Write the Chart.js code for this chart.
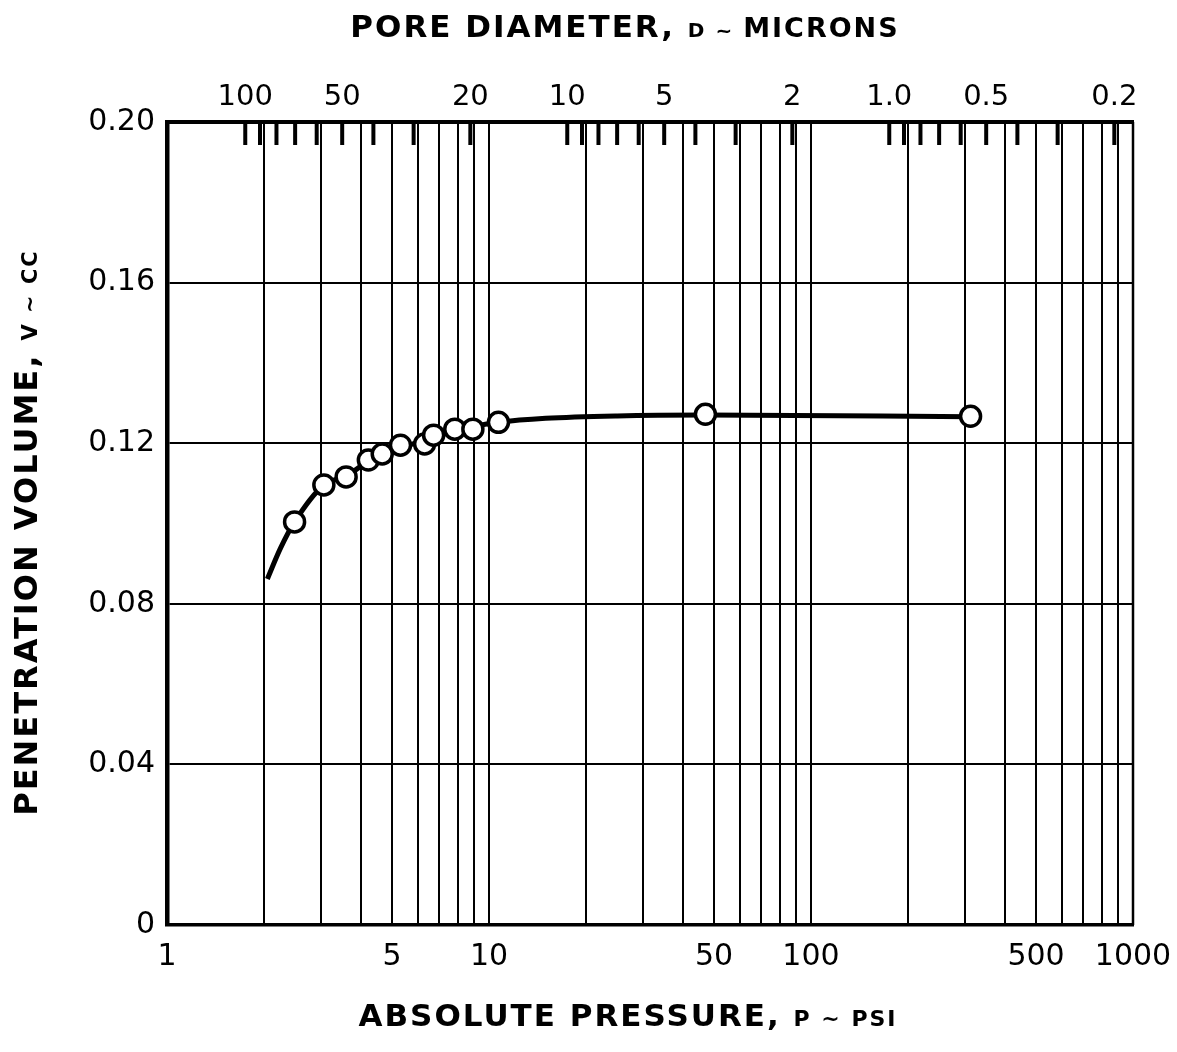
<!DOCTYPE html>
<html>
<head>
<meta charset="utf-8">
<script src="https://cdn.jsdelivr.net/npm/chart.js@4.4.1/dist/chart.umd.min.js"></script>
<style>
  html, body { margin: 0; padding: 0; background: #fff; }
  #wrap { width: 1177px; height: 1052px; }
</style>
</head>
<body>
<div id="wrap"><canvas id="chart"></canvas></div>
<script>
// measured points (circles)
const PRESSURE_PSI = [2.49, 3.07, 3.6, 4.22, 4.66, 5.31, 6.31, 6.73, 7.83, 8.91, 10.7, 47, 313];
const VOLUME_CC = [0.1004, 0.1096, 0.1116, 0.1158, 0.1173, 0.1195, 0.1198, 0.1220, 0.1235, 0.1235, 0.1252, 0.1272, 0.1267];

// faired curve drawn through the points
const CURVE_PSI = [2.05, 2.25, 2.49, 3.07, 3.6, 4.22, 5.3, 6.5, 7.8, 9, 10.7, 15, 25, 47, 313];
const CURVE_CC = [0.0862, 0.0938, 0.1004, 0.1096, 0.1118, 0.1155, 0.1188, 0.1210, 0.1230, 0.1242, 0.1252, 0.1262, 0.1268, 0.1270, 0.1266];

// bottom axis: log grid, labelled values
const PRESSURE_GRID = [];
[1, 10, 100].forEach(d => { for (let k = 1; k < 10; k++) PRESSURE_GRID.push(k * d); });
PRESSURE_GRID.push(1000);
const PRESSURE_LABELS = [1, 5, 10, 50, 100, 500, 1000];

// top axis: pore diameter D = 175 / P
const DIAMETER_CONST = 175;
const DIAMETER_TICKS = [100, 90, 80, 70, 60, 50, 40, 30, 20, 10, 9, 8, 7, 6, 5, 4, 3, 2,
  1, 0.9, 0.8, 0.7, 0.6, 0.5, 0.4, 0.3, 0.2];
const DIAMETER_LABEL_VALUES = [100, 50, 20, 10, 5, 2, 1, 0.5, 0.2];
const DIAMETER_LABELS = ["100", "50", "20", "10", "5", "2", "1.0", "0.5", "0.2"];

const VOLUME_TICKS = [0, 0.04, 0.08, 0.12, 0.16, 0.20];

const FONT = "'DejaVu Sans', sans-serif";

function drawRich(ctx, parts, x, y, vertical) {
  ctx.save();
  ctx.translate(x, y);
  if (vertical) ctx.rotate(-Math.PI / 2);
  ctx.fillStyle = "#000";
  ctx.textBaseline = "alphabetic";
  ctx.textAlign = "left";
  ctx.letterSpacing = "2px";
  let total = 0;
  parts.forEach(p => { ctx.font = "bold " + p.size + "px " + FONT; p.w = ctx.measureText(p.text).width; total += p.w; });
  let cx = -total / 2;
  parts.forEach(p => { ctx.font = "bold " + p.size + "px " + FONT; ctx.fillText(p.text, cx, 0); cx += p.w; });
  ctx.restore();
}

const paperPlugin = {
  id: "paper",
  afterDraw(chart) {
    const { ctx, chartArea: a, scales } = chart;
    ctx.save();
    ctx.strokeStyle = "#000";
    // pore diameter ticks point down into the plot
    ctx.lineWidth = 4;
    scales.xTop.ticks.forEach(t => {
      const x = scales.xTop.getPixelForValue(t.value);
      ctx.beginPath();
      ctx.moveTo(x, a.top);
      ctx.lineTo(x, a.top + 23);
      ctx.stroke();
    });
    // right border
    ctx.lineWidth = 2.5;
    ctx.beginPath();
    ctx.moveTo(a.right, a.top);
    ctx.lineTo(a.right, a.bottom);
    ctx.stroke();
    ctx.restore();

    drawRich(ctx, [{ text: "PORE DIAMETER, ", size: 31 }, { text: "D ~ ", size: 20 }, { text: "MICRONS", size: 27 }],
      (a.left + a.right) / 2 - 25, a.top - 85, false);
    drawRich(ctx, [{ text: "ABSOLUTE PRESSURE, ", size: 31 }, { text: "P ~ PSI", size: 22 }],
      (a.left + a.right) / 2 - 22, a.bottom + 101, false);
    drawRich(ctx, [{ text: "PENETRATION VOLUME, ", size: 32 }, { text: "V ~ CC", size: 21 }],
      a.left - 130, (a.top + a.bottom) / 2 + 9, true);
  }
};

const noEdgePadding = h => scale => { scale.height = h; scale.paddingLeft = 0; scale.paddingRight = 0; };

new Chart(document.getElementById("chart"), {
  data: {
    datasets: [
      {
        type: "scatter",
        label: "Measured",
        data: PRESSURE_PSI.map((p, i) => ({ x: p, y: VOLUME_CC[i] })),
        pointRadius: 10,
        pointBorderWidth: 3.5,
        pointBackgroundColor: "#fff",
        pointBorderColor: "#000",
        order: 0,
      },
      {
        type: "line",
        label: "Curve",
        data: CURVE_PSI.map((p, i) => ({ x: p, y: CURVE_CC[i] })),
        borderColor: "#000",
        borderWidth: 5,
        pointRadius: 0,
        cubicInterpolationMode: "monotone",
        fill: false,
        order: 1,
      },
    ],
  },
  options: {
    responsive: true,
    maintainAspectRatio: false,
    animation: false,
    layout: { padding: { left: 0, right: 44, top: 0, bottom: 0 } },
    plugins: {
      legend: { display: false },
      tooltip: { enabled: false },
    },
    scales: {
      x: {
        type: "logarithmic",
        position: "bottom",
        min: 1,
        max: 1000,
        afterBuildTicks: scale => { scale.ticks = PRESSURE_GRID.map(v => ({ value: v })); },
        afterFit: noEdgePadding(127),
        ticks: {
          autoSkip: false,
          maxRotation: 0,
          padding: 14,
          color: "#000",
          font: { family: FONT, size: 30 },
          callback: v => PRESSURE_LABELS.includes(v) ? String(v) : "",
        },
        grid: { color: "#000", lineWidth: 2, drawTicks: false },
        border: { color: "#000", width: 3.5 },
      },
      xTop: {
        type: "logarithmic",
        position: "top",
        min: 1,
        max: 1000,
        afterBuildTicks: scale => {
          scale.ticks = DIAMETER_TICKS.map(d => ({ value: DIAMETER_CONST / d }));
        },
        afterFit: noEdgePadding(122),
        ticks: {
          autoSkip: false,
          maxRotation: 0,
          padding: 7,
          color: "#000",
          font: { family: FONT, size: 29 },
          callback: v => {
            const d = DIAMETER_CONST / v;
            const i = DIAMETER_LABEL_VALUES.findIndex(l => Math.abs(l - d) < 1e-6);
            return i >= 0 ? DIAMETER_LABELS[i] : "";
          },
        },
        grid: { display: false, drawOnChartArea: false, drawTicks: false },
        border: { color: "#000", width: 4 },
      },
      y: {
        type: "linear",
        min: 0,
        max: 0.2,
        afterBuildTicks: scale => { scale.ticks = VOLUME_TICKS.map(v => ({ value: v })); },
        afterFit: scale => { scale.width = 167; scale.paddingTop = 0; scale.paddingBottom = 0; },
        ticks: {
          padding: 12,
          color: "#000",
          font: { family: FONT, size: 30 },
          callback: v => v === 0 ? "0" : v.toFixed(2),
        },
        grid: { color: "#000", lineWidth: 2, drawTicks: false },
        border: { color: "#000", width: 4.5 },
      },
    },
  },
  plugins: [paperPlugin],
});
</script>
</body>
</html>
